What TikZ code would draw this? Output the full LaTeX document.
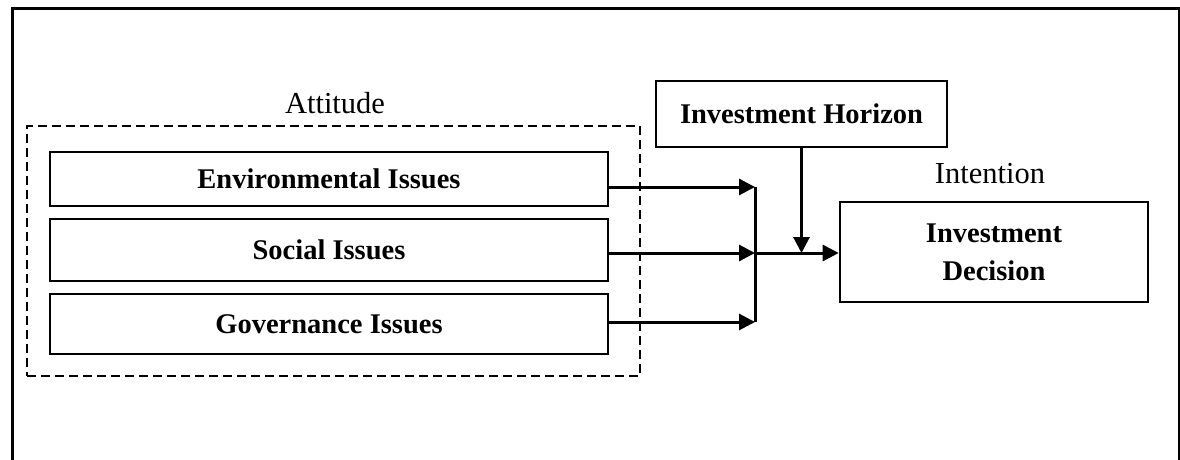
\documentclass[tikz,border=0pt]{standalone}
\usepackage{fontspec}
\setmainfont{Liberation Serif}
\usetikzlibrary{arrows.meta}
\begin{document}
\begin{tikzpicture}[x=1pt,y=-1pt,
  box/.style={draw, line width=2.6pt, rectangle, inner sep=0pt, align=center,
              font=\fontsize{28.5}{38}\selectfont\bfseries},
  lbl/.style={font=\fontsize{30.5}{33}\selectfont},
  arr/.style={line width=3pt, -{Triangle[length=16pt,width=16pt]}},
  ln/.style={line width=3pt},
  frame/.style={line width=3pt}]
\useasboundingbox (0,0) rectangle (1180,460);
\fill[white] (0,0) rectangle (1180,460);
\draw[frame] (12,475) -- (12,9) -- (1179,9) -- (1179,475);

\node[draw, line width=2.5pt, dash pattern=on 9pt off 5pt, minimum width=613pt,
      minimum height=250pt, inner sep=0pt] (att) at (333.5,251) {};
\node[lbl] (attl) at (335,103) {Attitude};

\node[box, minimum width=558pt, minimum height=54pt] (env) at (329,179) {Environmental Issues};
\node[box, minimum width=558pt, minimum height=62pt] (soc) at (329,250) {Social Issues};
\node[box, minimum width=558pt, minimum height=60pt] (gov) at (329,324) {Governance Issues};

\node[box, minimum width=291pt, minimum height=66pt] (hor) at (801.5,114) {Investment Horizon};
\node[box, minimum width=308pt, minimum height=100pt] (dec) at (994,252) {Investment\\Decision};
\node[lbl] (intl) at (990,174) {Intention};

\coordinate (b1) at (755,187);
\coordinate (b2) at (755,253);
\coordinate (b3) at (755,322);

\draw[arr] (env.east |- b1) -- (b1);
\draw[arr] (soc.east |- b2) -- (b2);
\draw[arr] (gov.east |- b3) -- (b3);
\draw[ln] (b1) -- (b3);
\draw[arr] (b2) -- (dec.west |- b2);
\draw[arr] (hor.south) -- (hor.south |- b2);
\end{tikzpicture}
\end{document}
